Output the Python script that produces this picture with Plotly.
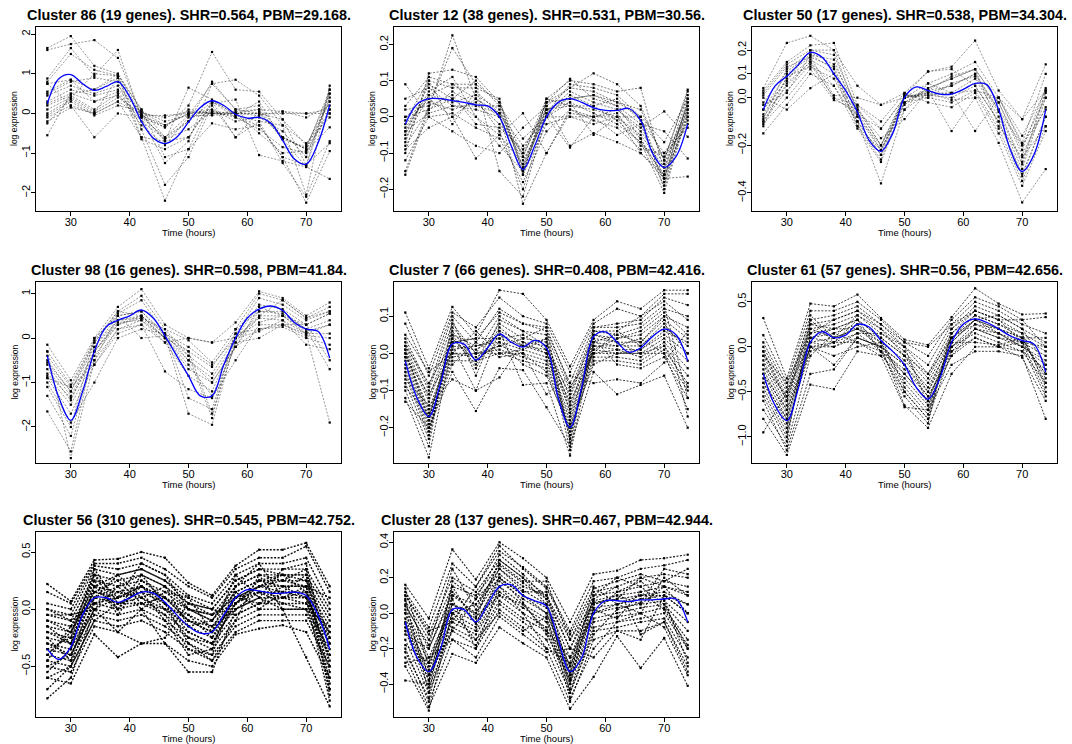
import plotly.graph_objects as go

# ---------------- data ----------------
TIME = [26, 30, 34, 38, 42, 46, 50, 54, 58, 62, 66, 70, 74]
SMOOTH_TIME = [26, 28, 30, 32, 34, 36, 38, 40, 42, 44, 46, 48, 50,
               52, 54, 56, 58, 60, 62, 64, 66, 68, 70, 72, 74]

TITLES = [
    "Cluster 86 (19 genes). SHR=0.564, PBM=29.168.",
    "Cluster 12 (38 genes). SHR=0.531, PBM=30.56.",
    "Cluster 50 (17 genes). SHR=0.538, PBM=34.304.",
    "Cluster 98 (16 genes). SHR=0.598, PBM=41.84.",
    "Cluster 7 (66 genes). SHR=0.408, PBM=42.416.",
    "Cluster 61 (57 genes). SHR=0.56, PBM=42.656.",
    "Cluster 56 (310 genes). SHR=0.545, PBM=42.752.",
    "Cluster 28 (137 genes). SHR=0.467, PBM=42.944.",
]

cluster86_genes = [
    [1.65, 1.95, 1.2, 1.0, 0.1, -0.6, -0.2, 0.8, 0.1, 0.2, -0.6, -0.9, 0.3],
    [1.6, 1.75, 1.85, 1.4, -0.05, -0.35, 0.2, 1.55, 0.6, 0.55, -0.15, -1.3, 0.6],
    [0.88, 1.65, 0.95, 1.6, -0.1, -1.25, -0.7, 0.75, 0.85, 0.45, -0.3, -2.05, 0.7],
    [0.8, 1.5, 1.1, 0.95, -0.6, -2.2, -0.9, 0.3, -0.1, -0.3, -1.1, -2.25, -0.95],
    [0.75, 0.85, 0.6, 0.9, -0.4, -1.8, -1.1, 0.2, -0.6, -0.2, -1.25, -2.1, -0.7],
    [0.5, 0.8, 0.9, 0.8, -0.65, -0.9, -0.6, 0.25, 0.35, -1.05, -1.2, -1.35, -1.65],
    [0.45, 0.7, 0.5, 0.7, 0.0, -0.7, 0.65, 0.35, -0.05, 0.3, -0.65, -0.85, 0.5],
    [0.3, 0.6, 0.45, 0.6, 0.05, -0.3, 0.0, 0.1, -0.2, -0.1, -0.45, -1.1, 0.4],
    [0.25, 0.5, 0.3, 0.55, -0.2, -0.65, -0.4, 0.05, -0.1, -0.4, -0.85, -1.0, 0.1],
    [0.2, 0.45, 0.1, 0.5, -0.3, -0.8, -0.1, 0.0, 0.0, -0.5, -1.0, -0.95, -0.35],
    [0.1, 0.4, 0.05, 0.4, 0.0, -0.1, 0.05, 0.0, 0.0, 0.0, 0.0, 0.0, 0.0],
    [0.0, 0.35, 0.0, 0.3, -0.05, -0.05, 0.0, 0.0, 0.05, 0.1, 0.05, -0.1, 0.2],
    [-0.05, 0.3, -0.05, 0.2, 0.05, -0.2, -0.05, -0.05, 0.0, 0.0, -0.15, -0.8, 0.3],
    [-0.1, 0.2, -0.6, 0.0, -0.1, -0.35, 0.1, 0.0, -0.05, -0.2, -0.3, -0.75, -0.1],
    [-0.2, 0.15, 0.0, 0.9, -0.1, -0.6, -0.05, 0.75, 0.1, 0.0, -0.6, -0.9, 0.0],
    [-0.25, 0.4, 1.0, 0.95, 0.1, -1.1, -0.9, -0.25, -0.4, -0.3, -1.1, -1.3, -0.75],
    [-0.55, 0.5, 0.6, 1.0, -0.05, -0.65, -0.2, 0.3, 0.0, 0.1, -0.6, -0.9, 0.6],
    [0.75, 0.2, 0.0, 0.3, -0.6, -0.7, -0.6, 0.3, -0.6, 0.05, -0.65, -1.35, 0.5],
    [0.55, 0.85, 0.3, 0.45, -0.05, -0.3, 0.0, 0.05, 0.0, -0.05, 0.05, 0.0, 0.1],
]
cluster86_smooth = [0.25, 0.88, 0.98, 0.75, 0.58, 0.68, 0.8, 0.42, -0.2, -0.62, -0.76, -0.6, -0.22,
                    0.15, 0.32, 0.2, -0.02, -0.12, -0.1, -0.25, -0.68, -1.15, -1.28, -0.75, 0.22]

cluster12_genes = [
    [-0.16, 0.02, 0.225, 0.05, 0.01, -0.24, -0.1, 0.01, 0.0, 0.0, -0.06, -0.17, 0.0],
    [-0.15, 0.03, 0.19, 0.09, -0.15, -0.22, 0.0, 0.04, -0.05, 0.0, -0.1, -0.16, 0.04],
    [-0.1, 0.12, 0.13, 0.11, 0.04, -0.11, 0.04, 0.08, 0.12, 0.09, 0.03, -0.12, 0.07],
    [-0.07, 0.1, 0.08, 0.08, 0.05, -0.16, 0.05, 0.1, 0.09, 0.07, 0.08, -0.15, 0.06],
    [-0.05, 0.09, 0.05, 0.1, 0.03, -0.15, 0.03, 0.08, 0.07, 0.04, 0.0, -0.2, 0.02],
    [-0.04, 0.07, 0.11, 0.0, -0.05, -0.13, 0.02, 0.05, 0.06, 0.03, -0.02, -0.18, 0.05],
    [-0.03, 0.06, 0.04, 0.06, 0.02, -0.14, 0.01, 0.07, 0.04, 0.02, -0.04, -0.13, 0.03],
    [-0.02, 0.05, 0.0, 0.05, 0.0, -0.12, 0.0, 0.06, 0.03, 0.05, -0.01, -0.1, 0.0],
    [0.0, 0.04, 0.02, 0.04, -0.02, -0.1, 0.05, 0.03, 0.02, 0.0, -0.05, -0.14, 0.02],
    [0.02, 0.03, 0.06, -0.02, -0.03, -0.09, 0.02, 0.04, 0.01, -0.02, -0.07, -0.16, -0.01],
    [0.05, 0.08, 0.03, 0.02, 0.0, -0.16, -0.02, 0.0, 0.0, 0.01, -0.08, -0.11, -0.02],
    [0.09, 0.0, -0.04, -0.08, -0.1, -0.03, 0.03, -0.08, -0.045, -0.07, -0.1, -0.17, -0.165],
    [-0.09, -0.03, 0.0, -0.115, -0.05, 0.01, -0.1, 0.02, 0.0, 0.02, -0.03, 0.015, -0.055],
    [0.0, 0.02, 0.07, 0.03, 0.01, -0.08, 0.0, -0.085, 0.0, -0.05, -0.02, -0.04, -0.115],
    [-0.06, 0.06, 0.09, 0.05, -0.04, -0.2, 0.01, 0.09, 0.08, 0.06, 0.0, -0.17, 0.04],
    [-0.01, 0.1, -0.02, 0.07, 0.01, -0.11, 0.04, 0.105, 0.05, 0.03, -0.06, -0.19, 0.03],
    [-0.08, 0.02, 0.05, 0.0, -0.08, -0.15, 0.02, 0.03, 0.03, -0.01, -0.07, -0.21, 0.01],
    [-0.04, 0.01, 0.03, 0.03, 0.03, -0.06, 0.0, 0.0, -0.02, 0.0, 0.0, -0.07, 0.05],
    [0.03, 0.11, 0.09, 0.09, 0.04, -0.14, 0.04, 0.05, 0.06, 0.04, 0.02, -0.12, 0.075],
    [-0.12, 0.0, 0.01, -0.03, -0.06, -0.18, -0.04, 0.02, -0.01, -0.03, -0.09, -0.1, -0.03],
]
cluster12_smooth = [-0.02, 0.035, 0.05, 0.05, 0.045, 0.04, 0.033, 0.03, 0.0, -0.08, -0.145, -0.08, 0.0,
                    0.04, 0.05, 0.04, 0.025, 0.018, 0.018, 0.023, -0.01, -0.1, -0.14, -0.11, -0.02]

cluster50_genes = [
    [0.04, 0.23, 0.26, 0.2, 0.05, -0.03, 0.02, 0.11, 0.13, 0.24, 0.03, -0.09, 0.14],
    [0.03, 0.15, 0.22, 0.23, -0.03, -0.13, 0.0, 0.06, 0.1, 0.15, 0.0, -0.19, 0.1],
    [0.02, 0.14, 0.2, 0.18, -0.05, -0.2, -0.02, 0.04, 0.08, 0.12, -0.02, -0.22, 0.04],
    [-0.02, 0.11, 0.18, 0.16, -0.08, -0.22, 0.0, 0.03, 0.05, 0.1, -0.05, -0.27, 0.03],
    [-0.05, 0.1, 0.17, 0.13, -0.1, -0.24, -0.05, 0.02, 0.02, 0.08, -0.08, -0.3, 0.0],
    [-0.07, 0.08, 0.16, 0.1, -0.12, -0.26, 0.01, 0.01, 0.0, 0.05, -0.1, -0.32, -0.08],
    [-0.08, 0.05, 0.15, 0.05, -0.13, -0.27, -0.02, 0.0, -0.02, 0.03, -0.13, -0.35, -0.12],
    [-0.1, 0.03, 0.14, 0.0, -0.03, -0.1, 0.02, -0.02, -0.04, 0.02, -0.15, -0.37, -0.14],
    [-0.11, 0.0, 0.12, -0.01, -0.05, -0.17, -0.09, 0.03, -0.14, 0.0, -0.19, -0.44, -0.3],
    [-0.15, -0.03, 0.1, 0.05, -0.1, -0.36, -0.05, 0.06, 0.02, -0.14, 0.0, -0.16, 0.03],
    [0.0, -0.05, 0.04, 0.1, -0.08, -0.2, 0.0, 0.02, 0.05, 0.1, -0.05, -0.2, 0.0],
    [-0.05, 0.07, 0.2, 0.2, -0.06, -0.22, -0.03, 0.04, 0.08, 0.12, -0.02, -0.24, -0.04],
    [-0.09, 0.12, 0.19, 0.14, -0.04, -0.2, 0.01, 0.0, 0.06, 0.09, -0.06, -0.28, 0.02],
    [0.01, 0.13, 0.17, 0.01, 0.0, -0.03, 0.0, 0.02, -0.01, 0.0, 0.0, -0.09, 0.03],
    [-0.12, 0.09, 0.13, 0.08, -0.1, -0.24, 0.01, 0.11, 0.12, 0.05, -0.1, -0.33, -0.08],
    [-0.03, 0.02, 0.18, 0.12, -0.12, -0.22, -0.02, 0.03, 0.09, 0.12, -0.12, -0.25, -0.12],
    [-0.1, 0.06, 0.15, 0.0, -0.07, -0.13, 0.0, 0.01, 0.02, 0.03, 0.0, -0.2, -0.05],
]
cluster50_smooth = [-0.05, 0.05, 0.09, 0.14, 0.19, 0.17, 0.1, 0.03, -0.06, -0.18, -0.225, -0.15, 0.0,
                    0.045, 0.03, 0.015, 0.015, 0.035, 0.06, 0.055, -0.05, -0.22, -0.31, -0.24, -0.05]

cluster98_genes = [
    [-0.15, -0.95, 0.0, 0.7, 1.1, 0.3, 0.0, -0.1, 0.35, 1.05, 0.9, 0.5, 0.8],
    [-0.3, -1.05, -0.05, 0.6, 0.95, 0.2, -0.05, -0.55, 0.2, 1.0, 0.85, 0.45, 0.7],
    [-0.4, -1.1, -0.1, 0.55, 0.85, 0.1, -0.3, -0.65, 0.1, 0.9, 0.75, 0.4, 0.6],
    [-0.55, -1.2, -0.2, 0.5, 0.6, 0.05, -0.4, -0.8, 0.0, 0.75, 0.65, 0.3, 0.55],
    [-0.6, -1.3, -0.3, 0.4, 0.5, 0.0, -0.5, -0.9, -0.1, 0.6, 0.55, 0.2, 0.4],
    [-0.8, -1.35, -0.4, 0.3, 0.45, 0.0, -0.7, -1.0, -0.2, 0.5, 0.5, 0.15, 0.3],
    [-0.85, -1.5, -0.5, 0.2, 0.4, -0.1, -0.85, -1.2, 0.0, 0.45, 0.4, 0.1, 0.1],
    [-0.9, -1.7, -0.6, 0.1, 0.3, -0.75, -1.15, -1.35, -0.5, 0.3, 0.3, 0.05, 0.0],
    [-1.0, -1.9, -1.0, 0.0, 0.2, 0.1, -1.35, -1.6, 0.1, 0.2, 0.25, 0.0, -0.15],
    [-1.1, -2.0, 0.0, 0.5, 0.0, 0.05, -1.7, -1.95, 0.0, 0.15, 0.4, -0.15, -0.25],
    [-1.3, -2.2, -0.3, 0.3, 0.5, 0.0, -0.3, -1.7, -0.1, 0.0, 0.3, 0.3, -0.5],
    [-1.65, -2.55, -0.2, 0.4, 0.45, 0.2, -0.4, -1.8, 0.2, 0.6, 0.6, 0.2, -0.7],
    [-0.3, -2.7, -0.5, 0.5, 0.6, 0.1, -0.5, -1.0, -0.2, 0.7, 0.5, 0.1, -1.9],
    [-0.5, -1.2, -0.1, 0.6, 0.5, 0.1, -0.2, -0.6, 0.0, 0.5, 0.85, 0.45, 0.6],
    [-0.7, -1.4, -0.3, 0.35, 0.4, 0.0, -0.6, -1.3, -0.2, 0.2, 0.3, 0.1, 0.3],
    [-0.9, -1.1, -0.6, 0.2, 0.3, -0.1, 0.0, -0.1, 0.0, 0.35, 0.5, 0.3, 0.55],
]
cluster98_smooth = [-0.4, -1.35, -1.85, -1.2, -0.3, 0.25, 0.4, 0.5, 0.63, 0.45, 0.05, -0.4, -0.85,
                    -1.3, -1.3, -0.6, 0.0, 0.45, 0.65, 0.72, 0.62, 0.35, 0.2, 0.15, -0.45]

cluster7_genes = [
    [0.11, -0.04, 0.125, 0.05, 0.17, 0.16, 0.09, -0.035, 0.09, 0.14, 0.12, 0.17, 0.17],
    [0.08, -0.06, 0.11, 0.07, 0.15, 0.1, 0.08, -0.05, 0.08, 0.12, 0.1, 0.16, 0.16],
    [0.04, -0.09, 0.1, 0.03, 0.12, 0.08, 0.06, -0.08, 0.07, 0.08, 0.09, 0.15, 0.13],
    [0.03, -0.1, 0.08, 0.0, 0.1, 0.06, 0.05, -0.1, 0.06, 0.05, 0.07, 0.12, 0.1],
    [0.02, -0.12, 0.06, -0.02, 0.08, 0.04, 0.03, -0.12, 0.05, 0.04, 0.05, 0.1, 0.07],
    [0.01, -0.13, 0.04, -0.03, 0.06, 0.03, 0.02, -0.14, 0.04, 0.03, 0.03, 0.09, 0.04],
    [0.0, -0.15, 0.02, 0.01, 0.05, 0.02, 0.0, -0.15, 0.03, 0.02, 0.02, 0.07, 0.02],
    [0.0, -0.16, 0.01, 0.02, 0.03, 0.01, -0.01, -0.17, 0.02, 0.01, 0.01, 0.05, 0.0],
    [-0.01, -0.17, 0.0, -0.01, 0.02, 0.0, -0.02, -0.18, 0.01, 0.0, 0.0, 0.04, -0.02],
    [-0.02, -0.18, -0.01, 0.0, 0.01, -0.01, -0.03, -0.19, 0.0, 0.01, -0.01, 0.03, -0.04],
    [-0.03, -0.19, -0.02, -0.02, 0.0, -0.02, -0.04, -0.2, -0.01, -0.01, -0.02, 0.02, -0.06],
    [-0.04, -0.2, -0.03, 0.03, -0.01, 0.0, -0.05, -0.21, -0.02, -0.02, -0.03, 0.01, -0.08],
    [-0.05, -0.21, 0.03, 0.04, 0.04, 0.05, 0.01, -0.22, 0.02, 0.02, 0.04, 0.0, -0.1],
    [-0.06, -0.22, 0.05, -0.04, 0.07, 0.02, 0.04, -0.23, 0.04, -0.03, -0.04, -0.01, -0.12],
    [-0.08, -0.23, 0.07, 0.0, 0.02, 0.04, 0.07, -0.24, 0.06, 0.06, 0.02, 0.08, 0.0],
    [-0.1, -0.25, 0.09, -0.06, 0.09, 0.06, 0.02, -0.26, 0.07, 0.07, 0.08, 0.13, -0.12],
    [-0.12, -0.28, 0.02, -0.1, 0.06, -0.085, -0.08, -0.275, 0.03, 0.05, 0.03, 0.1, -0.17],
    [-0.13, -0.2, -0.05, -0.155, -0.04, -0.045, -0.145, -0.25, -0.05, -0.11, -0.085, -0.06, -0.2],
    [0.05, -0.05, 0.0, 0.06, 0.0, 0.0, -0.11, -0.06, -0.08, -0.07, -0.08, -0.025, 0.06],
    [-0.07, -0.14, -0.07, -0.1, -0.065, 0.03, 0.0, -0.13, 0.0, 0.0, 0.01, 0.06, 0.03],
    [0.02, -0.08, 0.03, 0.04, 0.11, 0.08, 0.07, -0.09, 0.0, 0.06, 0.1, 0.14, 0.09],
    [-0.09, -0.17, 0.04, -0.02, 0.03, -0.03, -0.06, -0.2, -0.03, 0.0, 0.0, 0.02, -0.09],
    [-0.01, -0.11, 0.0, 0.0, 0.0, 0.01, 0.04, -0.16, 0.01, 0.04, 0.06, 0.11, 0.05],
    [0.01, -0.18, 0.05, 0.02, 0.04, 0.02, 0.01, -0.11, 0.05, 0.03, 0.0, 0.0, -0.15],
]
cluster7_smooth = [-0.02, -0.12, -0.17, -0.08, 0.025, 0.025, -0.018, 0.015, 0.052, 0.03, 0.017, 0.035, 0.015,
                   -0.12, -0.2, -0.09, 0.045, 0.058, 0.03, 0.003, 0.015, 0.045, 0.065, 0.05, -0.02]

cluster61_genes = [
    [0.32, -0.35, 0.48, 0.45, 0.58, 0.32, 0.08, 0.02, 0.33, 0.65, 0.48, 0.36, 0.37],
    [0.13, -0.4, 0.4, 0.4, 0.5, 0.3, 0.05, -0.1, 0.3, 0.55, 0.45, 0.3, 0.33],
    [0.05, -0.45, 0.3, 0.35, 0.45, 0.25, 0.0, -0.2, 0.25, 0.5, 0.4, 0.25, 0.15],
    [0.0, -0.5, 0.25, 0.3, 0.4, 0.2, 0.0, -0.3, 0.2, 0.45, 0.35, 0.2, 0.05],
    [-0.05, -0.55, 0.2, 0.25, 0.35, 0.15, -0.05, -0.35, 0.15, 0.4, 0.3, 0.15, 0.0],
    [-0.1, -0.6, 0.15, 0.2, 0.3, 0.1, -0.1, -0.4, 0.1, 0.35, 0.25, 0.1, -0.05],
    [-0.15, -0.65, 0.1, 0.15, 0.25, 0.05, -0.15, -0.45, 0.05, 0.3, 0.2, 0.05, -0.1],
    [-0.2, -0.7, 0.05, 0.1, 0.2, 0.0, -0.2, -0.5, 0.0, 0.25, 0.15, 0.0, -0.15],
    [-0.25, -0.75, 0.0, 0.05, 0.15, -0.05, -0.25, -0.55, -0.05, 0.2, 0.1, 0.0, -0.2],
    [-0.3, -0.8, 0.0, 0.0, 0.1, 0.0, -0.3, -0.6, 0.0, 0.15, 0.05, -0.05, -0.25],
    [-0.35, -0.85, -0.05, 0.05, 0.05, -0.1, -0.35, -0.65, -0.1, 0.1, 0.0, 0.05, -0.3],
    [-0.4, -0.9, 0.0, -0.1, 0.0, 0.05, -0.4, -0.7, 0.05, 0.05, 0.02, 0.1, -0.35],
    [-0.45, -0.95, 0.1, 0.2, 0.3, 0.1, -0.45, -0.75, 0.1, 0.3, 0.2, 0.1, -0.4],
    [-0.5, -1.0, 0.2, 0.1, 0.2, 0.05, -0.5, -0.8, 0.15, 0.35, 0.25, 0.15, -0.45],
    [-0.55, -1.05, 0.3, 0.05, 0.25, -0.05, -0.55, -0.85, 0.2, 0.4, 0.3, 0.05, -0.5],
    [-0.6, -1.15, -0.3, -0.25, 0.1, 0.0, -0.65, -0.9, -0.3, 0.0, 0.0, -0.12, -0.6],
    [-0.8, -1.2, -0.42, -0.47, -0.05, -0.1, -0.67, -0.7, -0.2, -0.05, -0.05, -0.1, -0.8],
    [-0.95, -0.5, 0.05, 0.0, 0.15, 0.15, 0.0, -0.65, 0.0, 0.2, 0.1, 0.05, 0.0],
    [-0.1, -0.4, 0.15, 0.3, 0.4, 0.25, 0.05, 0.0, 0.25, 0.4, 0.3, 0.3, 0.0],
    [-0.2, -0.55, 0.35, 0.1, 0.35, 0.2, -0.1, -0.3, 0.1, 0.3, 0.35, 0.2, -0.2],
    [-0.3, -0.7, 0.0, -0.2, 0.1, 0.0, -0.2, -0.55, -0.1, 0.2, 0.15, 0.0, -0.55],
    [-0.05, -0.6, 0.25, 0.2, 0.2, 0.1, -0.1, -0.5, 0.1, 0.25, 0.2, 0.1, 0.1],
    [-0.4, -0.8, 0.1, 0.05, 0.3, -0.05, -0.3, -0.6, 0.05, 0.3, 0.15, 0.05, -0.3],
    [-0.7, -1.1, -0.1, 0.15, 0.05, -0.05, -0.5, -0.8, -0.05, 0.1, 0.0, -0.05, -0.4],
]
cluster61_smooth = [-0.3, -0.65, -0.82, -0.45, 0.05, 0.17, 0.1, 0.13, 0.25, 0.22, 0.07, -0.05, -0.2,
                    -0.45, -0.58, -0.35, 0.05, 0.25, 0.31, 0.27, 0.2, 0.12, 0.07, 0.03, -0.28]

cluster56_genes = [
    [0.22, 0.07, 0.43, 0.44, 0.5, 0.45, 0.23, 0.12, 0.38, 0.52, 0.52, 0.58, 0.2],
    [0.15, 0.05, 0.4, 0.4, 0.45, 0.35, 0.2, 0.1, 0.35, 0.45, 0.45, 0.55, 0.15],
    [0.05, 0.0, 0.38, 0.35, 0.4, 0.3, 0.12, 0.05, 0.3, 0.4, 0.4, 0.45, 0.05],
    [0.0, -0.05, 0.35, 0.3, 0.35, 0.25, 0.1, 0.0, 0.25, 0.35, 0.35, 0.35, 0.0],
    [-0.05, -0.1, 0.3, 0.25, 0.3, 0.2, 0.05, -0.05, 0.2, 0.3, 0.3, 0.3, -0.05],
    [-0.1, -0.15, 0.25, 0.2, 0.25, 0.15, 0.0, -0.1, 0.15, 0.25, 0.25, 0.25, -0.1],
    [-0.15, -0.2, 0.2, 0.15, 0.2, 0.1, -0.05, -0.15, 0.1, 0.2, 0.2, 0.2, -0.15],
    [-0.2, -0.25, 0.15, 0.1, 0.15, 0.05, -0.1, -0.2, 0.05, 0.15, 0.15, 0.15, -0.2],
    [-0.25, -0.3, 0.1, 0.05, 0.1, 0.0, -0.15, -0.25, 0.0, 0.1, 0.1, 0.1, -0.25],
    [-0.3, -0.35, 0.05, 0.0, 0.05, -0.05, -0.2, -0.3, -0.05, 0.05, 0.05, 0.05, -0.3],
    [-0.35, -0.4, 0.0, -0.05, 0.0, -0.1, -0.25, -0.35, -0.1, 0.0, 0.0, 0.0, -0.35],
    [-0.4, -0.45, -0.05, -0.1, -0.05, -0.15, -0.3, -0.4, -0.15, -0.05, -0.05, -0.05, -0.4],
    [-0.45, -0.5, -0.1, -0.15, -0.1, -0.2, -0.35, -0.45, -0.2, -0.1, -0.1, -0.1, -0.5],
    [-0.5, -0.55, -0.15, -0.2, 0.0, -0.3, -0.45, -0.5, -0.22, -0.17, -0.14, -0.2, -0.6],
    [-0.6, -0.65, -0.22, -0.42, -0.3, -0.3, -0.55, -0.55, 0.0, 0.1, 0.0, -0.42, -0.85],
    [-0.78, -0.6, 0.0, 0.1, 0.2, 0.1, -0.1, -0.2, 0.1, 0.2, 0.15, 0.1, -0.8],
    [-0.7, -0.5, 0.1, 0.2, 0.3, 0.2, 0.0, -0.1, 0.2, 0.3, 0.25, 0.2, -0.7],
    [-0.55, -0.35, 0.2, 0.3, 0.35, 0.25, 0.05, 0.0, 0.25, 0.35, 0.3, 0.3, -0.75],
    [-0.4, -0.2, 0.3, 0.0, 0.2, 0.05, -0.2, -0.3, 0.05, 0.2, 0.25, 0.35, -0.65],
    [-0.3, -0.4, 0.05, 0.15, 0.1, -0.05, -0.35, -0.4, 0.15, 0.25, 0.2, 0.2, -0.55],
    [-0.2, -0.3, 0.25, -0.05, 0.25, 0.1, -0.1, -0.15, 0.0, 0.15, 0.1, 0.15, -0.45],
    [-0.1, -0.2, 0.15, 0.25, 0.05, 0.0, -0.05, -0.25, 0.1, 0.05, 0.2, 0.1, -0.4],
    [0.0, -0.1, 0.05, 0.1, 0.4, 0.3, 0.0, -0.05, 0.05, 0.25, 0.3, 0.25, -0.3],
    [-0.35, -0.25, 0.35, 0.05, 0.15, -0.1, -0.4, -0.35, 0.2, 0.4, 0.1, 0.05, -0.2],
    [-0.5, -0.4, 0.0, 0.2, 0.0, 0.15, 0.1, -0.2, 0.3, 0.1, 0.35, 0.4, -0.5],
    [-0.25, -0.45, 0.2, 0.0, 0.3, 0.05, -0.3, -0.45, -0.1, 0.3, 0.0, 0.0, -0.6],
    [-0.45, -0.15, 0.1, 0.3, 0.1, 0.2, -0.15, -0.1, 0.15, 0.0, 0.15, 0.3, -0.25],
    [-0.15, -0.3, 0.3, 0.1, 0.2, 0.0, -0.25, -0.3, 0.05, 0.2, 0.3, 0.15, -0.7],
    [-0.6, -0.5, -0.1, 0.05, 0.05, 0.1, 0.0, -0.05, 0.1, 0.15, 0.05, 0.0, -0.15],
    [-0.05, -0.05, 0.0, -0.2, -0.3, -0.25, 0.05, 0.0, -0.05, 0.05, 0.1, 0.2, 0.1],
]
cluster56_smooth = [-0.35, -0.44, -0.33, -0.05, 0.1, 0.1, 0.06, 0.1, 0.15, 0.14, 0.06, -0.05, -0.15,
                    -0.21, -0.2, -0.05, 0.1, 0.17, 0.16, 0.14, 0.14, 0.15, 0.12, -0.05, -0.35]

cluster28_genes = [
    [0.16, -0.03, 0.36, 0.19, 0.4, 0.31, 0.2, -0.05, 0.22, 0.24, 0.3, 0.31, 0.33],
    [0.12, -0.08, 0.28, 0.15, 0.35, 0.26, 0.15, -0.1, 0.18, 0.2, 0.25, 0.27, 0.3],
    [0.1, -0.12, 0.2, 0.12, 0.3, 0.2, 0.1, -0.15, 0.12, 0.15, 0.2, 0.22, 0.2],
    [0.07, -0.15, 0.15, 0.1, 0.27, 0.17, 0.08, -0.2, 0.1, 0.12, 0.15, 0.18, 0.15],
    [0.05, -0.2, 0.1, 0.05, 0.25, 0.13, 0.05, -0.25, 0.07, 0.1, 0.12, 0.15, 0.1],
    [0.02, -0.25, 0.05, 0.0, 0.2, 0.1, 0.03, -0.3, 0.05, 0.08, 0.1, 0.12, 0.05],
    [0.0, -0.28, 0.02, -0.05, 0.18, 0.08, 0.0, -0.33, 0.03, 0.05, 0.08, 0.1, 0.0],
    [-0.03, -0.32, 0.0, -0.08, 0.15, 0.05, -0.03, -0.35, 0.0, 0.03, 0.05, 0.07, -0.05],
    [-0.05, -0.35, -0.03, -0.1, 0.12, 0.03, -0.05, -0.38, -0.03, 0.0, 0.03, 0.05, -0.1],
    [-0.08, -0.38, -0.05, -0.12, 0.1, 0.0, -0.08, -0.4, -0.05, -0.02, 0.0, 0.03, -0.15],
    [-0.1, -0.42, -0.08, -0.15, 0.07, -0.03, -0.1, -0.43, -0.08, -0.05, -0.03, 0.0, -0.2],
    [-0.15, -0.45, -0.1, -0.18, 0.05, -0.05, -0.15, -0.45, -0.1, -0.08, -0.05, -0.03, -0.25],
    [-0.2, -0.5, -0.15, -0.2, 0.02, -0.08, -0.2, -0.5, -0.15, -0.1, -0.1, -0.05, -0.3],
    [-0.25, -0.53, -0.23, -0.28, -0.08, -0.17, -0.25, -0.54, -0.36, -0.13, -0.31, -0.14, -0.41],
    [-0.3, -0.55, 0.0, 0.05, 0.2, 0.1, 0.0, -0.3, 0.0, 0.05, 0.1, 0.1, 0.05],
    [-0.38, -0.4, 0.1, 0.0, 0.25, 0.15, 0.1, -0.2, 0.05, 0.1, 0.05, 0.15, 0.0],
    [0.14, -0.3, 0.05, -0.03, 0.3, 0.2, 0.05, -0.4, 0.1, 0.2, 0.15, 0.05, -0.2],
    [0.08, -0.45, 0.18, 0.08, 0.22, 0.12, 0.12, -0.35, 0.15, 0.05, 0.0, 0.2, 0.1],
    [-0.12, -0.2, 0.12, -0.02, 0.1, 0.05, -0.1, -0.25, 0.0, 0.12, 0.18, 0.08, -0.28],
    [0.0, -0.35, -0.1, 0.08, 0.33, 0.22, 0.08, -0.45, -0.12, 0.02, 0.06, 0.25, 0.22],
    [-0.18, -0.28, 0.08, -0.2, 0.15, 0.0, -0.2, -0.28, 0.08, 0.15, -0.12, -0.05, -0.33],
    [0.04, -0.18, 0.25, 0.02, 0.28, 0.18, 0.18, -0.15, 0.06, 0.08, 0.2, 0.15, 0.12],
    [-0.22, -0.48, 0.0, -0.15, 0.0, -0.1, -0.02, -0.48, -0.2, -0.05, 0.0, -0.08, -0.35],
    [0.1, -0.1, -0.05, 0.15, 0.38, 0.25, 0.14, -0.12, 0.14, 0.18, 0.22, 0.18, 0.25],
    [-0.06, -0.38, 0.15, -0.06, 0.2, 0.06, -0.12, -0.37, 0.02, -0.03, 0.12, 0.02, -0.18],
    [-0.28, -0.25, -0.15, -0.25, -0.02, -0.12, -0.22, -0.2, -0.25, -0.1, -0.15, 0.1, 0.0],
]
cluster28_smooth = [-0.05, -0.25, -0.33, -0.2, 0.02, 0.02, -0.05, 0.05, 0.15, 0.16, 0.1, 0.07, 0.04,
                    -0.15, -0.33, -0.25, 0.0, 0.07, 0.07, 0.065, 0.075, 0.075, 0.08, 0.08, -0.05]

GENES = [cluster86_genes, cluster12_genes, cluster50_genes, cluster98_genes,
         cluster7_genes, cluster61_genes, cluster56_genes, cluster28_genes]
SMOOTH = [cluster86_smooth, cluster12_smooth, cluster50_smooth, cluster98_smooth,
          cluster7_smooth, cluster61_smooth, cluster56_smooth, cluster28_smooth]

Y_TICKS = [
    [-2, -1, 0, 1, 2],
    [-0.2, -0.1, 0.0, 0.1, 0.2],
    [-0.4, -0.2, 0.0, 0.1, 0.2],
    [-2, -1, 0, 1],
    [-0.2, -0.1, 0.0, 0.1],
    [-1.0, -0.5, 0.0, 0.5],
    [-0.5, 0.0, 0.5],
    [-0.4, -0.2, 0.0, 0.2, 0.4],
]
X_TICKS = [30, 40, 50, 60, 70]

# ---------------- layout / style config ----------------
W, H = 1072, 744
COLS_PX = [(36, 341), (394, 699), (752, 1057)]
ROWS_PX = [(27, 211), (282, 463), (532, 717)]
Y_RANGES = [(-2.46, 2.18), (-0.26, 0.248), (-0.476, 0.297), (-2.81, 1.26),
            (-0.295, 0.192), (-1.29, 0.72), (-0.943, 0.675), (-0.586, 0.458)]
X_RANGE = (24.08, 75.92)
INT_TICKS = [True, False, False, True, False, False, False, False]
# visual weight of gene lines (denser clusters drawn heavier)
LINE_W = [0.6, 0.7, 0.6, 0.6, 0.9, 0.9, 1.4, 1.1]
LINE_C = ["rgba(0,0,0,0.7)", "rgba(0,0,0,0.75)", "rgba(0,0,0,0.7)", "rgba(0,0,0,0.7)",
          "rgba(0,0,0,0.85)", "rgba(0,0,0,0.85)", "rgba(0,0,0,0.95)", "rgba(0,0,0,0.9)"]

FONT = "Liberation Sans, Arial, Helvetica, sans-serif"

fig = go.Figure()
layout = dict(
    width=W, height=H, margin=dict(l=0, r=0, t=0, b=0),
    paper_bgcolor="white", plot_bgcolor="white", showlegend=False,
    font=dict(family=FONT, color="black"),
)
annotations = []

for i in range(8):
    r, c = divmod(i, 3)
    n = i + 1
    xa = "x" if n == 1 else f"x{n}"
    ya = "y" if n == 1 else f"y{n}"
    x0, x1 = COLS_PX[c]
    y0, y1 = ROWS_PX[r]
    xdom = [x0 / W, x1 / W]
    ydom = [1 - y1 / H, 1 - y0 / H]

    # gene profiles (one trace, separated by gaps)
    xs, ys = [], []
    for g in GENES[i]:
        xs += TIME + [None]
        ys += g + [None]
    fig.add_trace(go.Scatter(
        x=xs, y=ys, xaxis=xa, yaxis=ya, mode="lines+markers",
        line=dict(color=LINE_C[i], width=LINE_W[i], dash="2px,1.5px"),
        marker=dict(symbol="square", size=2.2, color="black", line=dict(width=0)),
        hoverinfo="skip", connectgaps=False,
    ))
    # smoothed cluster profile
    fig.add_trace(go.Scatter(
        x=SMOOTH_TIME, y=SMOOTH[i], xaxis=xa, yaxis=ya, mode="lines",
        line=dict(color="#0000FF", width=1.3, shape="spline", smoothing=1.0),
        hoverinfo="skip",
    ))

    if INT_TICKS[i]:
        ytext = [str(int(v)).replace("-", "\u2212") for v in Y_TICKS[i]]
    else:
        ytext = [f"{v:.1f}".replace("-", "\u2212") for v in Y_TICKS[i]]

    axis_common = dict(
        showline=True, linecolor="black", linewidth=1, mirror=True,
        ticks="outside", ticklen=4, tickwidth=1, tickcolor="black",
        showgrid=False, zeroline=False,
        tickfont=dict(size=11, family=FONT, color="black"),
    )
    layout["xaxis" if n == 1 else f"xaxis{n}"] = dict(
        domain=xdom, anchor=ya, range=list(X_RANGE),
        tickmode="array", tickvals=X_TICKS, ticktext=[str(v) for v in X_TICKS],
        ticklabelstandoff=-3, **axis_common,
    )
    layout["yaxis" if n == 1 else f"yaxis{n}"] = dict(
        domain=ydom, anchor=xa, range=list(Y_RANGES[i]),
        tickmode="array", tickvals=Y_TICKS[i], ticktext=ytext, tickangle=-90,
        ticklabelstandoff=-3, **axis_common,
    )

    xc = (xdom[0] + xdom[1]) / 2
    annotations.append(dict(
        text=f"<b>{TITLES[i]}</b>", x=xc, y=ydom[1], xref="paper", yref="paper",
        xanchor="center", yanchor="bottom", yshift=2, showarrow=False,
        font=dict(size=14.4, family=FONT, color="black"),
    ))
    annotations.append(dict(
        text="Time (hours)", x=xc, y=ydom[0], xref="paper", yref="paper",
        xanchor="center", yanchor="middle", yshift=-21, showarrow=False,
        font=dict(size=9.5, family=FONT, color="black"),
    ))
    annotations.append(dict(
        text="log expression", x=xdom[0], y=(ydom[0] + ydom[1]) / 2,
        xref="paper", yref="paper", xanchor="center", yanchor="middle",
        xshift=-22, textangle=-90, showarrow=False,
        font=dict(size=8.5, family=FONT, color="black"),
    ))

layout["annotations"] = annotations
fig.update_layout(**layout)
fig.write_html("out.html")
